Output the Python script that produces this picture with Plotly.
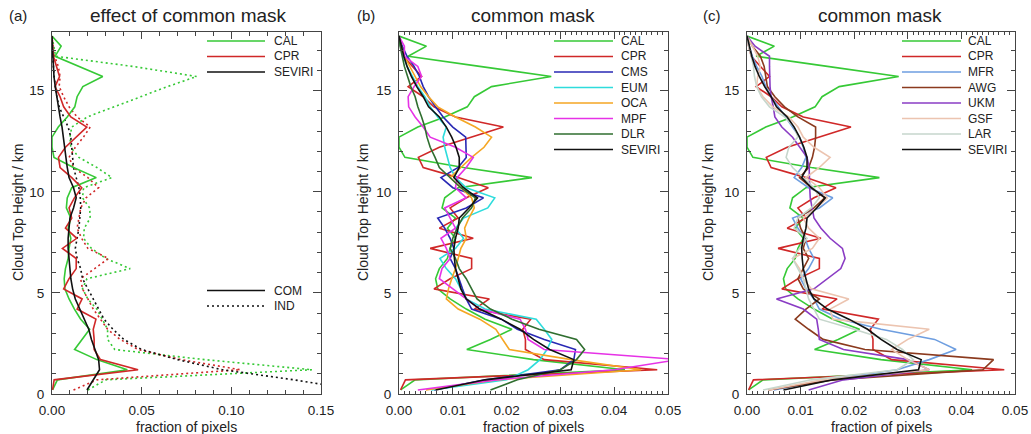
import plotly.graph_objects as go

# ---------------- data ----------------
heights = [0.2, 0.7, 1.2, 1.7, 2.2, 2.7, 3.2, 3.7, 4.2, 4.7, 5.2, 5.7, 6.2, 6.7, 7.2, 7.7, 8.2, 8.7,
           9.2, 9.7, 10.2, 10.7, 11.2, 11.7, 12.2, 12.7, 13.2, 13.7, 14.2, 14.7, 15.2, 15.7, 16.2, 16.7, 17.2, 17.7]

cal = [0.0003, 0.003, 0.042, 0.025, 0.0126, 0.017, 0.021, 0.016, 0.0125, 0.0095, 0.0072, 0.0068, 0.0075, 0.009,
       0.0095, 0.0105, 0.009, 0.0105, 0.008, 0.0085, 0.011, 0.0247, 0.012, 0.0011, 0.0, 0.0, 0.0035, 0.0085,
       0.0127, 0.014, 0.0172, 0.0283, 0.015, 0.0017, 0.0051, 0.0]
cpr = [0.0003, 0.0012, 0.048, 0.027, 0.0235, 0.0235, 0.023, 0.0245, 0.014, 0.0168, 0.0065, 0.0095, 0.0135, 0.0135,
       0.0058, 0.0138, 0.0075, 0.011, 0.0095, 0.0125, 0.0166, 0.011, 0.0045, 0.0036, 0.0075, 0.0135, 0.0194, 0.0105,
       0.0065, 0.0045, 0.0017, 0.0042, 0.0025, 0.0008, 0.0003, 0.0]
seviri = [0.0068, 0.016, 0.032, 0.0325, 0.028, 0.025, 0.0225, 0.019, 0.015, 0.0125, 0.0115, 0.011, 0.0105, 0.0103,
          0.0102, 0.0105, 0.011, 0.0112, 0.013, 0.0146, 0.012, 0.0102, 0.0112, 0.0112, 0.0106, 0.0098, 0.0088,
          0.0075, 0.0055, 0.0045, 0.0033, 0.0023, 0.0015, 0.0009, 0.0004, 0.0]
seviri_com_a = [0.0195, 0.023, 0.0265, 0.026, 0.024, 0.022, 0.0205, 0.018, 0.0155, 0.013, 0.0115, 0.0105, 0.010,
                0.0095, 0.009, 0.009, 0.0095, 0.010, 0.012, 0.0135, 0.012, 0.0095, 0.0085, 0.0078, 0.007, 0.0062,
                0.0056, 0.0045, 0.0035, 0.0027, 0.0018, 0.0011, 0.0007, 0.0004, 0.0002, 0.0]

cal_ind = [0.020, 0.030, 0.145, 0.085, 0.035, 0.031, 0.031, 0.028, 0.025, 0.020, 0.017, 0.0195, 0.0436, 0.030, 0.022,
           0.0176, 0.018, 0.0213, 0.021, 0.017, 0.0176, 0.0334, 0.025, 0.015, 0.0105, 0.010, 0.011, 0.0197, 0.0346,
           0.0495, 0.0644, 0.0807, 0.045, 0.002, 0.001, 0.0]
cpr_ind = [0.012, 0.025, 0.105, 0.072, 0.048, 0.038, 0.031, 0.027, 0.023, 0.020, 0.017, 0.016, 0.024, 0.0315, 0.020,
           0.0165, 0.014, 0.015, 0.016, 0.019, 0.026, 0.020, 0.012, 0.0095, 0.013, 0.0175, 0.0213, 0.014, 0.0095,
           0.0065, 0.004, 0.0045, 0.0035, 0.0015, 0.0005, 0.0]
seviri_ind = [0.17, 0.135, 0.095, 0.07, 0.05, 0.04, 0.034, 0.029, 0.026, 0.023, 0.020, 0.017, 0.016, 0.014, 0.013,
              0.014, 0.015, 0.0155, 0.016, 0.0158, 0.015, 0.0135, 0.012, 0.0115, 0.011, 0.0105, 0.009, 0.0065, 0.004,
              0.0027, 0.0018, 0.0012, 0.0008, 0.0005, 0.0002, 0.0]

cms = [0.0065, 0.016, 0.030, 0.0325, 0.0328, 0.027, 0.022, 0.019, 0.0135, 0.0125, 0.0118, 0.0112, 0.0105, 0.0095,
       0.0102, 0.0095, 0.0085, 0.0072, 0.0125, 0.0157, 0.010, 0.0078, 0.011, 0.0125, 0.0125, 0.0124, 0.010, 0.0082,
       0.0068, 0.0055, 0.0045, 0.0038, 0.0028, 0.0015, 0.0006, 0.0]
eum = [0.006, 0.020, 0.024, 0.0262, 0.0275, 0.0284, 0.027, 0.0255, 0.016, 0.0125, 0.0115, 0.0105, 0.0088, 0.0076,
       0.0105, 0.012, 0.0105, 0.012, 0.0165, 0.0178, 0.0125, 0.0105, 0.0095, 0.009, 0.0085, 0.0082, 0.0088, 0.0072,
       0.0058, 0.0048, 0.0035, 0.0025, 0.0015, 0.0008, 0.0003, 0.0]
oca = [0.005, 0.018, 0.045, 0.032, 0.0205, 0.0192, 0.018, 0.015, 0.011, 0.0088, 0.0092, 0.0098, 0.0105, 0.011,
       0.0115, 0.0125, 0.0122, 0.013, 0.014, 0.0135, 0.0115, 0.0095, 0.0115, 0.0135, 0.0158, 0.0172, 0.0142, 0.0105,
       0.0072, 0.0055, 0.004, 0.003, 0.002, 0.001, 0.0004, 0.0]
mpf = [0.0035, 0.018, 0.040, 0.052, 0.027, 0.024, 0.0235, 0.0225, 0.015, 0.0125, 0.010, 0.0075, 0.008, 0.0095,
       0.0088, 0.0078, 0.0105, 0.0095, 0.0085, 0.0125, 0.0105, 0.0108, 0.0125, 0.0138, 0.0105, 0.0058, 0.0045,
       0.003, 0.0018, 0.0017, 0.0028, 0.0042, 0.0035, 0.001, 0.001, 0.0]
dlr = [0.017, 0.022, 0.030, 0.033, 0.0345, 0.033, 0.026, 0.021, 0.017, 0.0145, 0.0135, 0.0125, 0.0112, 0.0105,
       0.0095, 0.010, 0.0108, 0.0118, 0.0135, 0.0142, 0.0115, 0.0095, 0.0075, 0.0067, 0.0058, 0.0052, 0.0048,
       0.0042, 0.0035, 0.003, 0.0022, 0.0016, 0.001, 0.0006, 0.0002, 0.0]

mfr = [0.005, 0.015, 0.028, 0.034, 0.039, 0.035, 0.025, 0.0175, 0.0135, 0.0125, 0.011, 0.010, 0.0115, 0.0125,
       0.0115, 0.0108, 0.0095, 0.0085, 0.0135, 0.016, 0.0115, 0.0088, 0.0102, 0.011, 0.0105, 0.0098, 0.0085,
       0.0072, 0.0058, 0.0045, 0.0035, 0.0028, 0.0018, 0.001, 0.0004, 0.0]
awg = [0.004, 0.016, 0.044, 0.046, 0.022, 0.0142, 0.0115, 0.009, 0.011, 0.0135, 0.0105, 0.0095, 0.0105, 0.0115,
       0.0105, 0.011, 0.010, 0.0095, 0.0125, 0.0145, 0.012, 0.0098, 0.0115, 0.0122, 0.0126, 0.0128, 0.0128,
       0.0095, 0.007, 0.0052, 0.0038, 0.0035, 0.0032, 0.0025, 0.001, 0.0]
ukm = [0.0115, 0.018, 0.034, 0.030, 0.018, 0.0135, 0.0133, 0.013, 0.0105, 0.0055, 0.0125, 0.015, 0.0175, 0.0183,
       0.0178, 0.0155, 0.0138, 0.0125, 0.0122, 0.0118, 0.0117, 0.0116, 0.0116, 0.0112, 0.0098, 0.0085, 0.0065,
       0.0052, 0.0049, 0.0045, 0.0043, 0.0042, 0.0042, 0.0042, 0.0015, 0.0]
gsf = [0.004, 0.014, 0.034, 0.030, 0.027, 0.030, 0.034, 0.016, 0.0155, 0.019, 0.012, 0.0105, 0.0098, 0.0085,
       0.0122, 0.0135, 0.0115, 0.0105, 0.013, 0.015, 0.0135, 0.011, 0.0135, 0.0155, 0.0125, 0.0105, 0.0095,
       0.0078, 0.0048, 0.003, 0.0018, 0.002, 0.0025, 0.002, 0.001, 0.0]
lar = [0.003, 0.012, 0.028, 0.031, 0.029, 0.026, 0.020, 0.0135, 0.0125, 0.0115, 0.011, 0.0105, 0.0095, 0.0085,
       0.0098, 0.0112, 0.0088, 0.0095, 0.012, 0.0135, 0.0125, 0.0105, 0.0085, 0.0073, 0.0078, 0.0095, 0.0088,
       0.007, 0.0042, 0.0027, 0.0018, 0.0014, 0.0012, 0.0008, 0.0003, 0.0]

x_ticks_a = [0.00, 0.05, 0.10, 0.15]
x_ticks_bc = [0.00, 0.01, 0.02, 0.03, 0.04, 0.05]
y_ticks = [0, 5, 10, 15]

legend_a = ["CAL", "CPR", "SEVIRI"]
legend_a2 = ["COM", "IND"]
legend_b = ["CAL", "CPR", "CMS", "EUM", "OCA", "MPF", "DLR", "SEVIRI"]
legend_c = ["CAL", "CPR", "MFR", "AWG", "UKM", "GSF", "LAR", "SEVIRI"]

# ---------------- styling ----------------
C = dict(CAL="#36c936", CPR="#d02828", SEVIRI="#111111", CMS="#2828b4", EUM="#2edcdc", OCA="#f5a623",
         MPF="#e632e6", DLR="#2f6e2f", MFR="#6e9ee0", AWG="#8b3a1e", UKM="#8a3cc4", GSF="#ecc4b0", LAR="#c6d6cc",
         COM="#111111", IND="#111111")
FONT = "Liberation Sans, Arial, sans-serif"
TXT = "#222222"
LW = 1.6
DOT = "2px,3px"

fig = go.Figure()


def add(x, name, xa, ya, dash="solid"):
    fig.add_trace(go.Scatter(
        x=x, y=heights, mode="lines", name=name, xaxis=xa, yaxis=ya, showlegend=False,
        line=dict(color=C[name], width=LW, dash=dash)))


# panel (a)
add(cal_ind, "CAL", "x", "y", dash=DOT)
add(cpr_ind, "CPR", "x", "y", dash=DOT)
add(seviri_ind, "SEVIRI", "x", "y", dash=DOT)
add(cal, "CAL", "x", "y")
add(cpr, "CPR", "x", "y")
add(seviri_com_a, "SEVIRI", "x", "y")

# panel (b)
for arr, nm in zip([cal, cpr, cms, eum, oca, mpf, dlr, seviri], legend_b):
    add(arr, nm, "x2", "y2")

# panel (c)
for arr, nm in zip([cal, cpr, mfr, awg, ukm, gsf, lar, seviri], legend_c):
    add(arr, nm, "x3", "y3")

W, H = 1031, 434
ytop, ybot = 32, 394
ydom = [(H - ybot) / H, (H - ytop) / H]
panels = [(52, 321), (399, 668), (747, 1015)]

axis_common = dict(showline=True, linecolor="#444444", linewidth=1, mirror="ticks", ticks="inside",
                   tickcolor="#444444", showgrid=False, zeroline=False, automargin=False,
                   tickfont=dict(family=FONT, size=13.5, color=TXT))

layout = dict(width=W, height=H, margin=dict(l=0, r=0, t=0, b=0, autoexpand=False), paper_bgcolor="white",
              plot_bgcolor="white", font=dict(family=FONT, color=TXT), showlegend=False)

for i, (x0, x1) in enumerate(panels):
    sfx = "" if i == 0 else str(i + 1)
    if i == 0:
        xa = dict(range=[0, 0.15], tickvals=x_ticks_a, tickformat=".2f", ticklen=7,
                  minor=dict(dtick=0.01, ticklen=4, ticks="inside", tickcolor="#444444"))
    else:
        xa = dict(range=[0, 0.05], tickvals=x_ticks_bc, tickformat=".2f", ticklen=7,
                  minor=dict(dtick=0.001, ticklen=3, ticks="inside", tickcolor="#444444"))
    xa.update(axis_common)
    xa.update(domain=[x0 / W, x1 / W], anchor="y" + sfx, ticklabelstandoff=4)
    ya = dict(range=[0, 17.9], tickvals=y_ticks, ticklen=8,
              minor=dict(dtick=1, ticklen=4, ticks="inside", tickcolor="#444444"))
    ya.update(axis_common)
    ya.update(domain=ydom, anchor="x" + sfx, ticklabelstandoff=4)
    layout["xaxis" + sfx] = xa
    layout["yaxis" + sfx] = ya

fig.update_layout(**layout)


def ann(text, x, y, size, xanchor="center", angle=0):
    fig.add_annotation(text=text, x=x / W, y=1 - y / H, xref="paper", yref="paper", showarrow=False,
                       textangle=angle, font=dict(family=FONT, size=size, color=TXT),
                       xanchor=xanchor, yanchor="middle", borderpad=0)


# titles, axis titles
titles = [("(a)", 18, "effect of common mask", 188), ("(b)", 366, "common mask", 533),
          ("(c)", 712, "common mask", 880)]
ylab_x = [18, 363, 708]
for (lab, lx, t, tx), (x0, x1), yx in zip(titles, panels, ylab_x):
    ann(lab, lx, 15, 15)
    ann(t, tx, 15, 19)
    ann("fraction of pixels", (x0 + x1) / 2, 426.5, 14)
    ann("Cloud Top Height / km", yx, (ytop + ybot) / 2, 14, angle=-90)


# legends (key line + label)
def legend(names, line_x0, line_x1, text_x, y0, dashes=None):
    for k, nm in enumerate(names):
        yy = y0 + k * 15.5
        dash = "solid" if not dashes else dashes[k]
        fig.add_shape(type="line", xref="paper", yref="paper", x0=line_x0 / W, x1=line_x1 / W,
                      y0=1 - yy / H, y1=1 - yy / H, line=dict(color=C[nm], width=LW, dash=dash))
        ann(nm, text_x, yy, 12, xanchor="left")


legend(legend_a, 207, 265, 273, 41)
legend(legend_a2, 207, 265, 273, 290.5, dashes=["solid", DOT])
legend(legend_b, 554, 613, 620, 41)
legend(legend_c, 902, 961, 967, 41)

fig.write_html("out.html")
